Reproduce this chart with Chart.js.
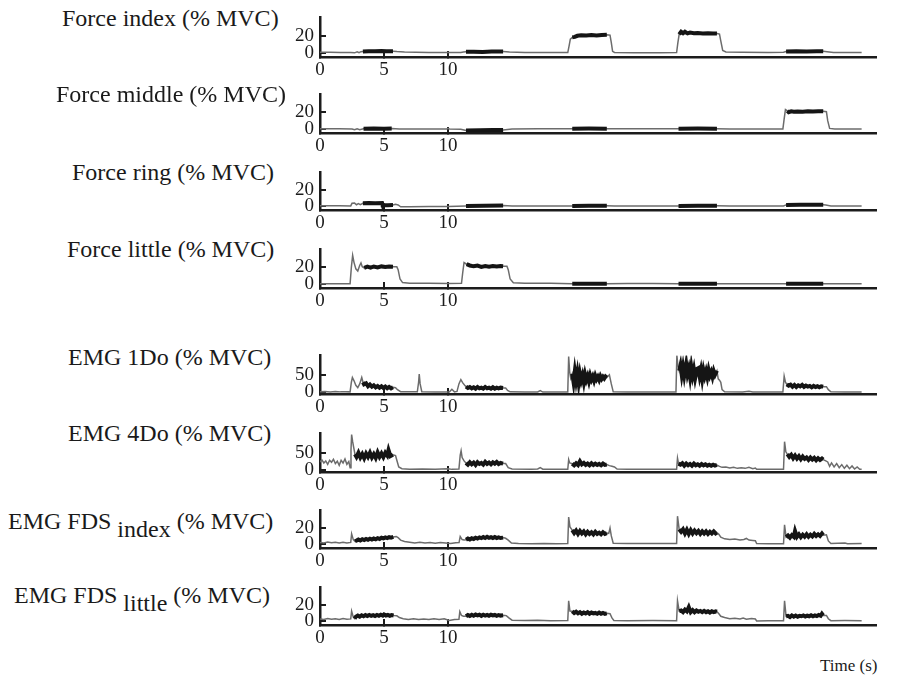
<!DOCTYPE html>
<html>
<head>
<meta charset="utf-8">
<script src="https://cdn.jsdelivr.net/npm/chart.js@4.4.0/dist/chart.umd.min.js"></script>
<style>
  body { margin: 0; background: #fff; width: 921px; height: 683px; position: relative; overflow: hidden;
         font-family: "Liberation Serif", "Times New Roman", serif; color: #1a1a1a; }
  .panel { position: absolute; }
  .label { position: absolute; font-size: 24px; line-height: 24px; white-space: nowrap; }
  .sub { position: relative; top: 8px; }
  #time { position: absolute; font-size: 17px; line-height: 17px; white-space: nowrap; }
</style>
</head>
<body>
<div id="time">Time (s)</div>
<script>
// tick labels
const xTicks = [0, 5, 10];
const forceTicks = [0, 20];
const emgTicks = [0, 50];

// analysis windows (s) drawn in black
const holdForce = [[3.35, 5.7], [11.4, 14.3], [19.7, 22.4], [28.0, 31.0], [36.4, 39.3]];
const holdEmg = [[2.7, 5.75], [11.4, 14.3], [19.7, 22.4], [28.0, 31.0], [36.4, 39.3]];

// [time (s), % MVC]
const forceIndex = [[0,0.8],[0.8,0.9],[1.6,0.7],[2.4,0.6],[2.7,0.2],[2.9,1.4],[3.05,0.3],[3.2,1.5],[3.35,1.8],[3.8,2.1],[4.3,1.9],[4.8,2.2],[5.2,2.0],[5.7,2.1],[6.0,1.6],[6.6,1.1],[7.5,0.8],[8.5,0.6],[9.5,0.5],[10.4,0.6],[11.0,0.7],[11.2,1.1],[11.4,1.4],[12.0,1.5],[12.7,1.3],[13.4,1.6],[14.3,1.6],[14.8,1.1],[16,0.7],[17.5,0.5],[19.35,0.5],[19.45,8],[19.55,16],[19.7,18],[19.9,18.5],[20.1,19.8],[20.4,20.4],[20.8,20.1],[21.2,20.7],[21.6,20.3],[22.0,20.8],[22.4,21.0],[22.65,20.6],[22.75,12],[22.85,2],[23.0,0.6],[24.5,0.4],[26.5,0.4],[27.85,0.5],[27.95,12],[28.05,21.5],[28.2,24.5],[28.35,22.8],[28.5,24.6],[28.7,22.6],[28.9,23.6],[29.2,22.8],[29.5,22.9],[29.9,22.5],[30.3,22.7],[30.7,22.6],[31.0,22.5],[31.2,21.8],[31.3,14],[31.45,3],[31.7,1.2],[33,0.9],[35,0.7],[36.2,0.9],[36.4,1.8],[37.2,2.0],[38.0,1.8],[38.8,1.9],[39.3,1.9],[39.6,1.5],[40.1,0.6],[42.3,0.6]];

const forceMiddle = [[0,0.3],[1.5,0.3],[2.5,0.2],[2.7,-0.8],[2.9,0.4],[3.1,-0.6],[3.4,0.5],[4.2,0.7],[5.0,0.5],[5.6,0.6],[6.2,0.2],[8,0.1],[9.9,0.1],[10.0,0.8],[10.1,0.1],[11.0,-0.2],[11.4,-1.5],[12.5,-1.3],[13.5,-1.2],[14.3,-1.0],[15,0.1],[17,0.3],[19.7,0.5],[21,0.6],[22.4,0.5],[23,0.3],[25,0.3],[28.0,0.5],[29.5,0.6],[31.0,0.5],[32,0.2],[34,0.2],[36.15,0.2],[36.25,12],[36.35,23],[36.5,21.5],[36.6,20],[36.8,21],[37.0,20.5],[37.3,20.8],[37.7,20.6],[38.1,21.0],[38.5,20.7],[38.9,21.1],[39.3,21.0],[39.55,20.5],[39.65,10],[39.8,0.8],[40.2,0.2],[42.3,0.2]];

const forceRing = [[0,0.6],[1.5,0.5],[2.4,0.4],[2.5,3.5],[2.7,3.8],[2.85,1.8],[3.0,3.2],[3.15,2.0],[3.35,3.5],[3.8,3.8],[4.3,3.6],[4.85,3.8],[4.9,1.2],[5.3,1.3],[5.7,1.4],[5.9,2.2],[6.1,1.5],[6.3,-0.8],[7,-0.6],[8.5,-0.5],[10,-0.4],[11.4,0.3],[12.8,0.6],[14.3,0.8],[15,0.3],[17,0.1],[19.7,0.4],[21,0.6],[22.4,0.5],[23,0.2],[25.5,0.1],[28.0,0.4],[29.5,0.5],[31.0,0.5],[32,0.3],[34,0.2],[36.2,0.4],[36.4,1.6],[37.5,1.8],[38.5,1.7],[39.3,1.8],[39.5,1.4],[39.9,0.2],[42.3,0.1]];

const forceLittle = [[0,0.5],[1.2,0.4],[2.35,0.5],[2.45,20],[2.55,34],[2.65,26],[2.8,18],[2.95,15.5],[3.1,22],[3.2,25],[3.3,20.5],[3.45,19.2],[3.7,20.6],[3.95,19.4],[4.2,20.8],[4.5,19.6],[4.8,20.9],[5.1,20.2],[5.4,20.8],[5.7,20.6],[6.0,20.4],[6.1,17],[6.25,6],[6.45,1.8],[7,0.9],[8.5,1],[10,0.8],[11.05,0.9],[11.15,14],[11.25,25.5],[11.45,23.5],[11.7,22],[12.0,21],[12.3,21.8],[12.6,20.4],[12.9,21.3],[13.2,20.5],[13.5,21.4],[13.8,20.8],[14.1,21.5],[14.3,21.2],[14.6,21],[14.7,17],[14.85,6],[15.1,1.6],[16,1],[18,0.9],[19.7,0.4],[22.4,0.4],[24,0.6],[26,0.6],[28.0,0.4],[31.0,0.4],[33,0.5],[36.4,0.3],[39.3,0.3],[40.5,0.5],[42.3,0.4]];

const emg1Do = [[0,1.5],[0.4,2.5],[0.8,1.2],[1.2,2.8],[1.6,1.5],[2.0,2.2],[2.35,1.5],[2.45,30],[2.53,44],[2.65,35],[2.8,21],[2.95,14],[3.1,25],[3.26,44],[3.36,30],[3.44,24],[3.6,27],[3.75,18],[3.9,23],[4.05,17],[4.2,21],[4.35,15],[4.5,19],[4.65,14],[4.8,18],[4.95,13],[5.1,17],[5.25,12],[5.4,16],[5.55,12],[5.7,15],[5.9,14],[6.05,8],[6.3,2],[7.0,1.5],[7.6,1.5],[7.7,30],[7.75,54],[7.82,25],[7.95,2],[9,1],[10.1,1],[10.3,9],[10.5,1.5],[10.7,3],[10.85,25],[11.0,38],[11.15,28],[11.3,21],[11.4,17],[11.55,13],[11.7,16],[11.85,12],[12.0,15],[12.15,11],[12.3,16],[12.45,12],[12.6,14],[12.75,11],[12.9,16],[13.05,12],[13.2,14],[13.35,11],[13.5,15],[13.65,11],[13.8,14],[13.95,12],[14.1,14],[14.3,13],[14.5,13],[14.65,6],[14.85,1.5],[16,1],[17.0,1.2],[17.2,5],[17.4,1],[19.35,1],[19.42,106],[19.5,60],[19.58,42],[19.7,55],[19.8,30],[19.9,62],[20.0,35],[20.1,58],[20.2,28],[20.3,55],[20.4,36],[20.5,50],[20.6,30],[20.7,53],[20.8,37],[20.9,48],[21.0,33],[21.1,50],[21.2,38],[21.3,47],[21.4,35],[21.5,49],[21.6,39],[21.7,46],[21.8,37],[21.9,48],[22.0,40],[22.1,46],[22.2,41],[22.3,47],[22.4,44],[22.6,52],[22.75,25],[22.9,1.5],[24,1],[26,1.2],[27.8,1],[27.87,110],[27.95,80],[28.05,64],[28.15,80],[28.25,52],[28.35,75],[28.45,50],[28.6,84],[28.7,55],[28.8,70],[28.9,45],[29.0,75],[29.1,50],[29.2,68],[29.3,42],[29.45,70],[29.55,72],[29.65,48],[29.75,66],[29.85,40],[29.95,65],[30.05,48],[30.15,62],[30.25,45],[30.35,66],[30.45,50],[30.55,60],[30.65,46],[30.75,63],[30.85,52],[31.0,64],[31.1,40],[31.2,36],[31.3,30],[31.4,8],[31.6,1.5],[33,1],[33.5,3],[33.8,1],[36.15,1],[36.25,48],[36.35,30],[36.45,24],[36.6,20],[36.75,23],[36.9,17],[37.05,22],[37.2,16],[37.35,21],[37.5,18],[37.65,22],[37.8,16],[37.95,20],[38.1,17],[38.25,19],[38.4,15],[38.55,19],[38.7,16],[38.85,18],[39.0,15],[39.15,18],[39.3,17],[39.55,17],[39.7,8],[39.9,1.5],[41,1],[42.3,1]];

const emg4Do = [[0,25],[0.15,31],[0.3,22],[0.45,28],[0.6,18],[0.75,30],[0.9,24],[1.05,33],[1.2,20],[1.35,27],[1.5,15],[1.65,30],[1.8,22],[1.95,34],[2.1,18],[2.25,26],[2.35,8],[2.42,60],[2.47,106],[2.55,85],[2.62,70],[2.73,48],[2.85,40],[3.0,52],[3.15,38],[3.3,48],[3.45,36],[3.6,50],[3.75,40],[3.9,52],[4.05,38],[4.2,48],[4.35,37],[4.5,53],[4.65,40],[4.8,50],[4.95,39],[5.1,52],[5.25,44],[5.35,60],[5.5,42],[5.7,46],[5.9,44],[6.0,30],[6.15,10],[6.4,5],[7,3.5],[8,4],[9,3],[10.0,5],[10.3,3],[10.85,4],[10.95,45],[11.02,58],[11.1,38],[11.25,28],[11.4,22],[11.55,17],[11.7,24],[11.85,18],[12.0,23],[12.15,16],[12.3,24],[12.45,19],[12.6,22],[12.75,17],[12.9,25],[13.05,19],[13.2,23],[13.35,18],[13.5,24],[13.65,20],[13.8,25],[13.95,19],[14.1,22],[14.3,20],[14.5,20],[14.7,8],[15,4],[16.5,3.5],[17.0,4],[17.2,8],[17.4,3.5],[19.35,3],[19.42,32],[19.5,22],[19.7,20],[19.85,15],[20.0,21],[20.15,16],[20.3,27],[20.45,18],[20.6,22],[20.75,16],[20.9,20],[21.05,15],[21.2,21],[21.35,16],[21.5,20],[21.65,16],[21.8,19],[21.95,15],[22.1,20],[22.25,16],[22.4,17],[22.6,14],[22.8,12],[23.0,10],[23.2,4],[24,3],[25.5,3],[27.85,3],[27.92,36],[28.0,20],[28.15,17],[28.3,21],[28.45,14],[28.6,20],[28.75,15],[28.9,19],[29.05,14],[29.2,20],[29.35,15],[29.5,18],[29.65,14],[29.8,19],[29.95,15],[30.1,18],[30.25,14],[30.4,17],[30.55,14],[30.7,17],[30.85,14],[31.0,16],[31.2,12],[31.4,9],[31.7,10],[32.0,7],[32.3,9],[32.6,6],[32.9,8],[33.2,6],[33.5,9],[33.8,5],[34.0,7],[34.1,3],[35,3],[36.2,3],[36.28,85],[36.38,55],[36.5,48],[36.65,40],[36.8,46],[36.95,36],[37.1,44],[37.25,35],[37.4,42],[37.55,33],[37.7,41],[37.85,34],[38.0,38],[38.15,31],[38.3,38],[38.45,32],[38.6,37],[38.75,30],[38.9,36],[39.05,31],[39.2,35],[39.3,32],[39.5,28],[39.65,25],[39.8,12],[39.95,22],[40.15,10],[40.35,20],[40.55,8],[40.75,17],[40.95,6],[41.15,15],[41.35,5],[41.55,13],[41.75,4],[41.95,10],[42.15,3],[42.3,3]];

const fdsIndex = [[0,2.2],[0.3,1.5],[0.6,2.6],[0.9,1.7],[1.2,2.4],[1.5,1.4],[1.8,2.5],[2.1,1.6],[2.4,2.2],[2.47,12.5],[2.6,5.5],[2.73,3.5],[2.86,4.5],[3.0,5.8],[3.15,4.6],[3.3,6.0],[3.45,5.0],[3.6,6.4],[3.75,5.3],[3.9,6.6],[4.05,5.6],[4.2,6.9],[4.35,6.0],[4.5,7.3],[4.65,6.4],[4.8,7.8],[4.95,7.0],[5.1,8.2],[5.25,7.4],[5.4,8.6],[5.55,7.9],[5.73,8.8],[5.95,9.4],[6.1,8],[6.3,5],[6.6,3.2],[7.0,2.5],[7.4,1.6],[7.8,2.4],[8.2,1.5],[8.6,2.2],[9.0,1.3],[9.4,2.1],[9.8,1.4],[10.2,0.8],[10.6,1.8],[10.86,2],[10.95,9.3],[11.1,5.6],[11.25,5.2],[11.4,5.5],[11.55,6.8],[11.7,5.8],[11.85,7.2],[12.0,6.3],[12.15,7.8],[12.3,6.8],[12.45,8.3],[12.6,7.4],[12.75,8.8],[12.9,7.6],[13.05,8.9],[13.2,7.8],[13.35,8.6],[13.5,7.5],[13.65,8.7],[13.8,7.4],[13.95,8.3],[14.1,7.5],[14.3,8.0],[14.5,7.2],[14.7,5],[14.95,1.5],[15.5,0.8],[16.5,0.6],[17.5,0.9],[18.5,0.6],[19.35,0.8],[19.42,33],[19.52,21],[19.7,17],[19.85,13.5],[20.0,16.5],[20.15,12.5],[20.3,16],[20.45,13],[20.6,15.5],[20.75,12],[20.9,15],[21.05,12.5],[21.2,14.5],[21.35,12],[21.5,15],[21.65,12.5],[21.8,14],[21.95,12],[22.1,14.5],[22.25,12.5],[22.4,13.5],[22.55,13],[22.65,19.5],[22.75,10],[22.9,1.2],[24,0.8],[26,0.9],[27.85,0.8],[27.92,34],[28.05,18],[28.2,15],[28.35,18],[28.5,13],[28.65,17.5],[28.8,12.5],[28.95,17],[29.1,13],[29.25,16.5],[29.4,13.5],[29.55,16],[29.7,12.5],[29.85,15.5],[30.0,13],[30.15,15.5],[30.3,12.5],[30.45,15],[30.6,13],[30.75,15.5],[30.9,13],[31.0,14],[31.15,12],[31.3,8.6],[31.6,6.5],[32.0,5.6],[32.4,6.2],[32.8,5.0],[33.1,5.8],[33.3,7],[33.5,5],[33.8,4.6],[34.0,4.2],[34.1,0.8],[35,0.6],[36.2,0.7],[36.28,23.5],[36.4,8.6],[36.55,10.5],[36.7,8],[36.85,11],[37.0,9],[37.1,16],[37.25,9],[37.4,12],[37.55,8.5],[37.7,11.5],[37.85,9],[38.0,12],[38.15,9],[38.3,11.5],[38.45,9.5],[38.6,12.5],[38.75,10],[38.9,12],[39.05,10],[39.2,13],[39.3,11],[39.55,11.5],[39.7,4],[39.9,0.8],[41.0,1.5],[41.2,0.7],[42.3,0.8]];

const fdsLittle = [[0,2.8],[0.3,2.0],[0.6,3.2],[0.9,2.3],[1.2,3.0],[1.5,2.1],[1.8,3.2],[2.1,2.4],[2.4,2.8],[2.47,12.3],[2.6,5],[2.7,3.2],[2.8,5.5],[2.95,6.8],[3.1,5.6],[3.25,7.2],[3.4,6.0],[3.55,7.4],[3.7,6.3],[3.85,7.6],[4.0,6.4],[4.15,7.3],[4.3,6.2],[4.45,7.5],[4.6,6.5],[4.75,7.8],[4.9,6.8],[5.0,8.2],[5.15,6.9],[5.3,7.6],[5.45,6.6],[5.6,7.4],[5.75,7.0],[6.0,6.6],[6.2,4.5],[6.5,3.0],[6.9,2.2],[7.3,3.0],[7.7,2.0],[8.1,2.8],[8.5,2.1],[8.9,3.0],[9.3,2.2],[9.7,2.9],[10.1,0.8],[10.5,2.0],[10.85,2.4],[10.92,11.6],[11.05,7],[11.2,6],[11.4,6.0],[11.55,7.5],[11.7,6.4],[11.85,7.8],[12.0,6.6],[12.15,8.0],[12.3,7.0],[12.45,7.8],[12.6,6.5],[12.75,7.9],[12.9,6.9],[13.05,7.7],[13.2,6.6],[13.35,7.8],[13.5,7.0],[13.65,7.6],[13.8,6.5],[13.95,7.5],[14.1,6.8],[14.3,7.2],[14.55,6.8],[14.75,4],[15.0,1.2],[16,0.8],[17,1.1],[18,0.7],[19.35,0.8],[19.42,24.7],[19.52,12.3],[19.7,12],[19.85,10],[20.0,11.5],[20.15,9.5],[20.3,11],[20.45,9],[20.6,10.5],[20.75,9.5],[20.9,11],[21.05,9],[21.2,10.5],[21.35,9.5],[21.5,10],[21.65,9],[21.8,10.5],[21.95,9],[22.1,10],[22.25,9],[22.4,9.5],[22.65,9],[22.8,4],[22.95,0.8],[24,0.6],[26,0.8],[27.85,0.7],[27.92,24.7],[28.05,12.3],[28.2,13],[28.35,11],[28.5,14],[28.65,12],[28.8,17],[28.95,11],[29.1,13.5],[29.25,11],[29.4,13],[29.55,11.5],[29.7,12.5],[29.85,11],[30.0,12.5],[30.15,11],[30.3,12],[30.45,10.5],[30.6,12],[30.75,11],[30.9,12],[31.0,11.5],[31.15,9],[31.3,6],[31.6,4.5],[32.0,3],[32.4,3.6],[32.8,2.6],[33.05,3.8],[33.3,2.5],[33.7,3.2],[34.0,2.6],[34.1,0.4],[35,0.6],[36.2,0.5],[36.28,24.7],[36.4,6],[36.55,6.5],[36.7,5],[36.85,7],[37.0,5.5],[37.15,6.8],[37.3,5.5],[37.45,6.5],[37.6,6],[37.75,7],[37.9,5.8],[38.05,6.8],[38.2,6],[38.35,7.2],[38.5,6],[38.65,7],[38.8,6.2],[38.95,7.5],[39.1,6.5],[39.2,9],[39.3,7],[39.55,7],[39.7,3],[39.9,0.6],[41,0.8],[42.3,0.6]];

// layout of the eight stacked panels
const panels = [
  { label: 'Force index (% MVC)', data: forceIndex, ticks: forceTicks, hold: holdForce, emg: false, top: 8, axis: 57, lx: 62, base: 26 },
  { label: 'Force middle (% MVC)', data: forceMiddle, ticks: forceTicks, hold: holdForce, emg: false, top: 85, axis: 133, lx: 56, base: 102 },
  { label: 'Force ring (% MVC)', data: forceRing, ticks: forceTicks, hold: holdForce, emg: false, top: 163, axis: 210, lx: 72, base: 180 },
  { label: 'Force little (% MVC)', data: forceLittle, ticks: forceTicks, hold: holdForce, emg: false, top: 240, axis: 288, lx: 67, base: 257 },
  { label: 'EMG 1Do (% MVC)', data: emg1Do, ticks: emgTicks, hold: holdForce, emg: true, top: 346, axis: 394, lx: 68, base: 365 },
  { label: 'EMG 4Do (% MVC)', data: emg4Do, ticks: emgTicks, hold: holdEmg, emg: true, top: 424, axis: 472, lx: 68, base: 441 },
  { label: 'EMG FDS <span class="sub">index</span> (% MVC)', data: fdsIndex, ticks: forceTicks, hold: holdEmg, emg: false, top: 501, axis: 548, lx: 8, base: 529 },
  { label: 'EMG FDS <span class="sub">little</span> (% MVC)', data: fdsLittle, ticks: forceTicks, hold: holdEmg, emg: false, top: 578, axis: 625, lx: 14, base: 603 }
];

const PAD_TOP = 14, X_AXIS_H = 26, Y_AXIS_W = 44, LEFT = 276, RIGHT = 877;
const INK = '#1c1c1c';

Chart.defaults.font.family = '"Liberation Serif", "Times New Roman", serif';

function holdPoints(series, windows) {
  const out = [];
  windows.forEach(([a, b]) => {
    series.forEach(([t, v]) => { if (t >= a && t <= b) out.push({ x: t, y: v }); });
    out.push({ x: b, y: null });
  });
  return out;
}

const time = document.getElementById('time');
time.style.left = '820px';
time.style.top = '657px';

panels.forEach(p => {
  const lab = document.createElement('div');
  lab.className = 'label';
  lab.innerHTML = p.label;
  lab.style.left = p.lx + 'px';
  lab.style.top = (p.base - 20) + 'px';
  document.body.appendChild(lab);

  const box = document.createElement('div');
  box.className = 'panel';
  const h = (p.axis - p.top) + PAD_TOP + X_AXIS_H;
  box.style.left = LEFT + 'px';
  box.style.top = (p.top - PAD_TOP) + 'px';
  const canvas = document.createElement('canvas');
  canvas.width = RIGHT - LEFT;
  canvas.height = h;
  box.appendChild(canvas);
  document.body.appendChild(box);

  const axisStyle = {
    grid: { drawOnChartArea: false, drawTicks: true, tickLength: -6, color: INK, lineWidth: 2 },
    border: { display: true, color: INK, width: 2.5 }
  };

  new Chart(canvas, {
    type: 'line',
    data: {
      datasets: [
        { data: holdPoints(p.data, p.hold), borderColor: '#151515', borderWidth: 4, pointRadius: 0, tension: 0, order: 0, spanGaps: false },
        { data: p.data.map(([t, v]) => ({ x: t, y: v })), borderColor: '#6c6c6c', borderWidth: 1.5, pointRadius: 0, tension: 0, order: 1 }
      ]
    },
    options: {
      responsive: false,
      animation: false,
      layout: { padding: { top: PAD_TOP, right: 0, bottom: 0, left: 0 } },
      plugins: { legend: { display: false }, tooltip: { enabled: false } },
      scales: {
        x: {
          type: 'linear', min: 0, max: 43.5,
          afterBuildTicks: s => { s.ticks = xTicks.map(v => ({ value: v })); },
          afterFit: s => { s.height = X_AXIS_H; },
          ...axisStyle,
          ticks: { padding: 8, color: INK, maxRotation: 0, autoSkip: false, font: { size: 19 } }
        },
        y: {
          min: p.emg ? -4.8 : -4.6, max: p.emg ? 109.5 : 41,
          afterBuildTicks: s => { s.ticks = p.ticks.map(v => ({ value: v })); },
          afterFit: s => { s.width = Y_AXIS_W; },
          ...axisStyle,
          ticks: { padding: 12, color: INK, font: { size: 19 } }
        }
      }
    }
  });
});
</script>
</body>
</html>
